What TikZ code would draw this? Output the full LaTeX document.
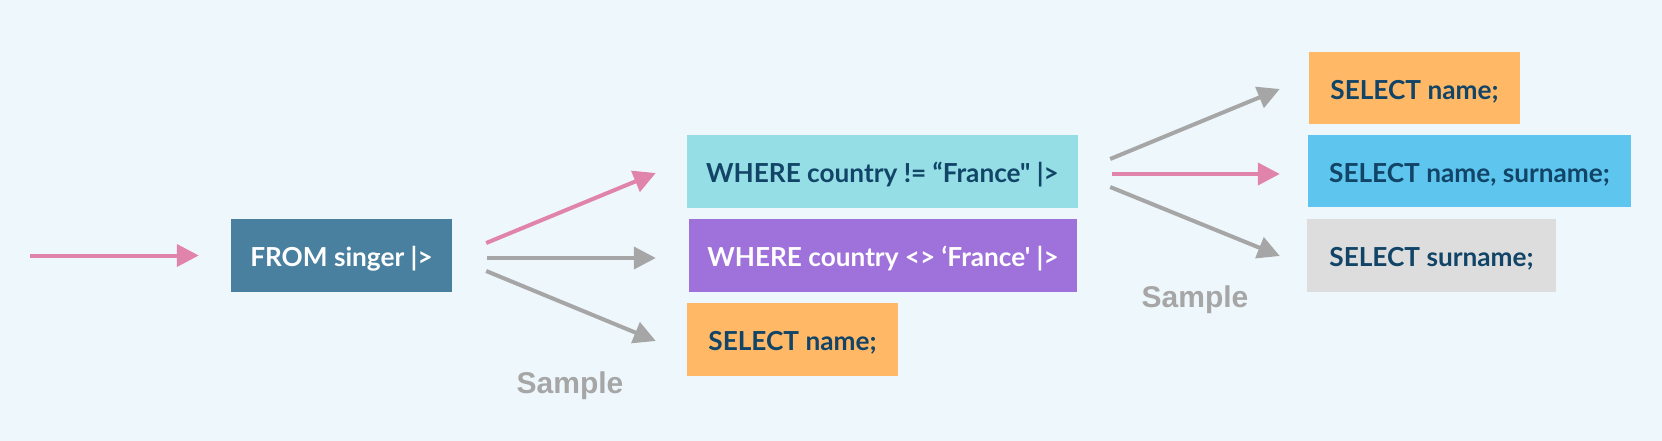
\documentclass[tikz,border=0pt]{standalone}
\usepackage{fontspec}
\newfontfamily\boxfont{Lato}
\newfontfamily\samplefont{Liberation Sans}
\usetikzlibrary{arrows.meta}
\definecolor{bg}{HTML}{EEF8FC}
\definecolor{fromc}{HTML}{4A809F}
\definecolor{cyanc}{HTML}{95DEE6}
\definecolor{purplec}{HTML}{9F71DA}
\definecolor{orangec}{HTML}{FFB866}
\definecolor{bluec}{HTML}{5EC6EE}
\definecolor{grayboxc}{HTML}{DDDDDD}
\definecolor{navyc}{HTML}{114467}
\definecolor{pinkc}{HTML}{E084AC}
\definecolor{grayc}{HTML}{A6A6A6}
\tikzset{
  qbox/.style={rectangle, inner sep=0pt, minimum height=73pt, text height=22.5pt, text depth=0pt,
    font=\boxfont\bfseries\fontsize{26.2}{31}\selectfont, text=navyc, align=center},
  pinkarrow/.style={draw=pinkc, line width=4pt, -{Triangle[length=22pt,width=22pt]}},
  grayarrow/.style={draw=grayc, line width=4pt, -{Triangle[length=22pt,width=22pt]}},
  samplelabel/.style={anchor=base, text=grayc, font=\samplefont\bfseries\fontsize{30}{36}\selectfont, inner sep=0pt}
}
\begin{document}
\begin{tikzpicture}[x=1pt,y=-1pt]
\fill[bg] (0,0) rectangle (1662,441);
\useasboundingbox (0,0) rectangle (1662,441);

\node[qbox, fill=fromc, text=white, minimum width=221pt] (from) at (341.5,255.5) {FROM singer |>};
\node[qbox, fill=cyanc, minimum width=391pt] (w1) at (882.5,171.5) {WHERE country != “France" |>};
\node[qbox, fill=purplec, text=white, minimum width=388pt] (w2) at (883,255.5) {WHERE country <> ‘France' |>};
\node[qbox, fill=orangec, minimum width=211pt] (s1) at (792.5,339.5) {SELECT name;};
\node[qbox, fill=orangec, minimum width=211pt, minimum height=72pt] (t1) at (1414.5,88) {SELECT name;};
\node[qbox, fill=bluec, minimum width=323pt, minimum height=72pt] (t2) at (1469.5,171) {SELECT name, surname;};
\node[qbox, fill=grayboxc, minimum width=249pt] (t3) at (1431.5,255.5) {SELECT surname;};

\node[samplelabel] (sample1) at (570,393) {Sample};
\node[samplelabel] (sample2) at (1195,307) {Sample};

\coordinate (start) at (30,255.5);
\draw[pinkarrow] (start) -- ([shift={(-32,0)}]from.west);

\draw[pinkarrow] ([shift={(34,-12.5)}]from.east) -- ([shift={(-31,1.5)}]w1.west);
\draw[grayarrow] ([shift={(35,2.5)}]from.east) -- ([shift={(-33,2.5)}]w2.west);
\draw[grayarrow] ([shift={(34,15.5)}]from.east) -- ([shift={(-31,1.5)}]s1.west);

\draw[grayarrow] ([shift={(32,-12.5)}]w1.east) -- ([shift={(-29,1)}]t1.west);
\draw[pinkarrow] ([shift={(34,2.5)}]w1.east) -- ([shift={(-28,3)}]t2.west);
\draw[grayarrow] ([shift={(32,15.5)}]w1.east) -- ([shift={(-27,0.5)}]t3.west);
\end{tikzpicture}
\end{document}
